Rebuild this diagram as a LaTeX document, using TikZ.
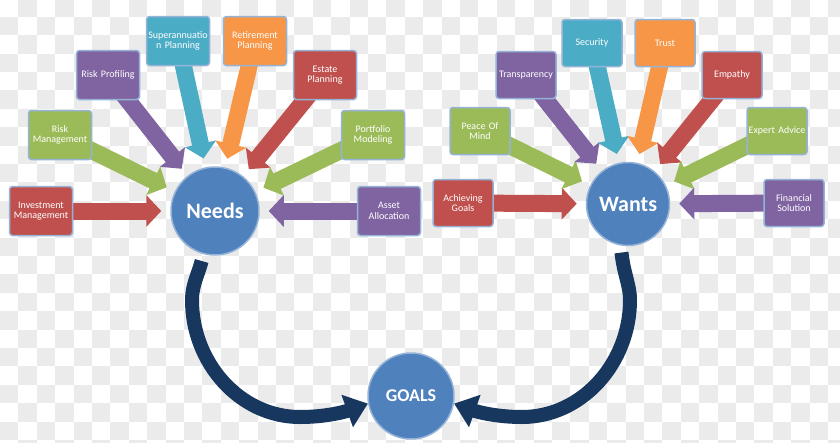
\documentclass[tikz,border=0pt]{standalone}
\usepackage{fontspec}
\setmainfont{Carlito}
\usepackage{tikz}
\usetikzlibrary{arrows.meta,backgrounds}
\definecolor{boxred}{HTML}{C0504D}
\definecolor{boxgreen}{HTML}{9BBB59}
\definecolor{boxpurple}{HTML}{8064A2}
\definecolor{boxteal}{HTML}{4BACC6}
\definecolor{boxorange}{HTML}{F79646}
\definecolor{hubblue}{HTML}{4F81BD}
\definecolor{rimblue}{HTML}{95B3D7}
\definecolor{navy}{HTML}{17375E}
\definecolor{checkgray}{HTML}{EBEBEB}

\begin{document}
\begin{tikzpicture}[x=1pt, y=-1pt]
  % Styles for boxes, hubs and arrows
  \tikzstyle{box} = [rectangle, rounded corners=3pt, minimum width=63pt, minimum height=49pt, text width=62pt, inner sep=0pt, align=center, draw=rimblue, line width=1.5pt, text=white, font=\fontsize{10}{10.5}\selectfont]
  \tikzstyle{wbox} = [box, minimum width=60pt, minimum height=47pt, text width=60pt]
  \tikzstyle{hub} = [circle, fill=hubblue, draw=rimblue, line width=1.5pt, inner sep=0pt, text=white, font=\bfseries\fontsize{22}{24}\selectfont]
  \tikzstyle{feed} = [line width=17pt, -{Triangle[length=15pt,width=31pt]}, shorten >=9pt]
  \tikzstyle{sweep} = [draw=navy, line width=14pt, -{Triangle[length=22pt,width=33pt]}, shorten <=7pt]

  \useasboundingbox (0,0) rectangle (840,442);

  % Checkered backdrop
  \begin{scope}[on background layer]
    \fill[white] (0,0) rectangle (840,442);
    \clip (0,0) rectangle (840,442);
    \foreach \i in {0,...,45}
      \foreach \j in {0,...,24}
        {\ifodd\numexpr\i+\j\relax \fill[checkgray] (\i*18.4, \j*18.4-1.7) rectangle ++(18.4,18.4); \fi}
  \end{scope}

  % Needs side
  \node[hub, minimum size=88pt] (needs) at (215,211) {Needs};
  \node[box, fill=boxred] (invest) at (41,211) {Investment\\Management};
  \node[box, fill=boxgreen] (riskman) at (60,135) {Risk\\Management};
  \node[box, fill=boxpurple] (riskprof) at (108,75) {Risk Profiling};
  \node[box, fill=boxteal] (super) at (178,41) {Superannuatio\\n Planning};
  \node[box, fill=boxorange] (retire) at (255,41) {Retirement\\Planning};
  \node[box, fill=boxred] (estate) at (325,75) {Estate\\Planning};
  \node[box, fill=boxgreen] (portfolio) at (373,135) {Portfolio\\Modeling};
  \node[box, fill=boxpurple] (asset) at (389,211) {Asset\\Allocation};

  % Wants side
  \node[hub, minimum size=83pt] (wants) at (628,204) {Wants};
  \node[wbox, fill=boxred] (achieve) at (463,203) {Achieving\\Goals};
  \node[wbox, fill=boxgreen] (peace) at (480,131) {Peace Of\\Mind};
  \node[wbox, fill=boxpurple] (transp) at (526,75) {Transparency};
  \node[wbox, fill=boxteal] (security) at (592,43) {Security};
  \node[wbox, fill=boxorange] (trust) at (665,43) {Trust};
  \node[wbox, fill=boxred] (empathy) at (732,75) {Empathy};
  \node[wbox, fill=boxgreen] (expert) at (777,131) {Expert Advice};
  \node[wbox, fill=boxpurple] (finsol) at (794,203) {Financial\\Solution};

  % Goals
  \node[hub, minimum size=86pt, font=\bfseries\fontsize{18}{20}\selectfont] (goals) at (411,396) {GOALS};

  % Block arrows into the hubs
  \begin{scope}[on background layer]
    \foreach \src/\col in {invest/boxred, riskman/boxgreen, riskprof/boxpurple, super/boxteal, retire/boxorange, estate/boxred, portfolio/boxgreen, asset/boxpurple}
      \draw[feed, draw=\col] (\src.center) -- (needs);
    \foreach \src/\col in {achieve/boxred, peace/boxgreen, transp/boxpurple, security/boxteal, trust/boxorange, empathy/boxred, expert/boxgreen, finsol/boxpurple}
      \draw[feed, draw=\col] (\src.center) -- (wants);
  \end{scope}

  % Curved arrows down to the goals
  \draw[sweep] (needs.255) .. controls (198,275) and (192,285) .. (192,300) .. controls (192,363) and (240,417) .. (300,417) .. controls (330,417) and (350,410) .. (goals.190);
  \draw[sweep] (wants.260) .. controls (624,275) and (630,285) .. (630,300) .. controls (630,363) and (582,417) .. (522,417) .. controls (492,417) and (472,410) .. (goals.350);
\end{tikzpicture}
\end{document}
